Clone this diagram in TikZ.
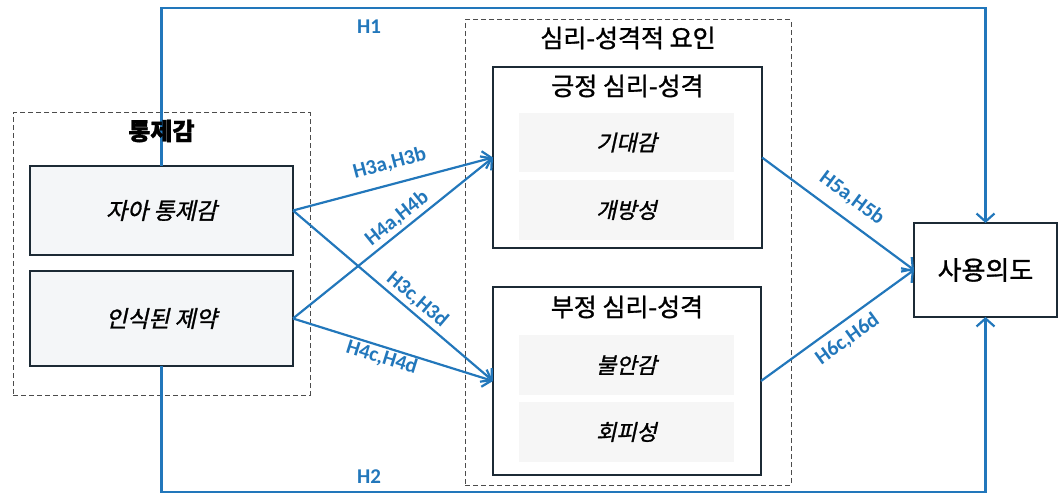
\documentclass[tikz,border=0pt]{standalone}
\usepackage{fontspec}
\setmainfont{Noto Sans CJK KR}
\newfontfamily\kr[FakeBold=1.2]{Noto Sans CJK KR}
\newfontfamily\krit[FakeSlant=0.22,FakeBold=1.2]{Noto Sans CJK KR}
\newfontfamily\labfont{Carlito}
\usetikzlibrary{arrows.meta}
\definecolor{myblue}{HTML}{2277BB}
\definecolor{dark}{HTML}{1C2A35}
\definecolor{boxfill}{HTML}{F4F6F8}
\definecolor{innerfill}{HTML}{F6F6F6}
\tikzset{
  x=1pt, y=1pt,
  grp/.style={draw=black!70, dash pattern=on 5pt off 3pt, line width=1pt, inner sep=0, outer sep=0},
  varbox/.style={draw=dark, line width=2.4pt, fill=boxfill, inner sep=0, outer sep=0, font=\krit\fontsize{23}{27}\selectfont},
  catbox/.style={draw=dark, line width=2.4pt, fill=white, inner sep=0, outer sep=0},
  innerbox/.style={fill=innerfill, inner sep=0, outer sep=0, font=\krit\fontsize{22}{26}\selectfont},
  title/.style={inner sep=0, font=\kr\fontsize{25}{29}\selectfont},
  btitle/.style={inner sep=0, font=\kr\bfseries\fontsize{24}{28}\selectfont},
  arr/.style={draw=myblue, line width=2.2pt, -{Straight Barb[length=8pt,width=18pt,line width=2.2pt]}},
  lab/.style={text=myblue, inner sep=0pt, font=\labfont\bfseries\fontsize{21}{24}\selectfont},
}
\begin{document}
\begin{tikzpicture}
\useasboundingbox (0,0) rectangle (1058,-497);
% groups
\node[grp, minimum width=297, minimum height=282] (g1) at (161.5,-254) {};
\node[grp, minimum width=326, minimum height=465] (g2) at (628,-252.5) {};
\node[title] (g2t) at (628,-38) {심리-성격적 요인};
% left variables
\node[varbox, minimum width=263, minimum height=89] (sc) at (161.5,-210.5) {자아 통제감};
\node[varbox, minimum width=263, minimum height=95] (pc) at (161.5,-318.5) {인식된 제약};
% positive
\node[catbox, minimum width=269, minimum height=181] (pos) at (627.5,-157.5) {};
\node[title] (post) at (627.5,-86) {긍정 심리-성격};
\node[innerbox, minimum width=215, minimum height=59] (ex) at (626.5,-142.5) {기대감};
\node[innerbox, minimum width=215, minimum height=60] (op) at (626.5,-210) {개방성};
% negative
\node[catbox, minimum width=268, minimum height=188] (neg) at (627,-381) {};
\node[title] (negt) at (627,-307) {부정 심리-성격};
\node[innerbox, minimum width=215, minimum height=60] (an) at (626.5,-365) {불안감};
\node[innerbox, minimum width=215, minimum height=60] (av) at (626.5,-432) {회피성};
% outcome
\node[draw=dark, line width=1.3pt, fill=white, minimum width=143, minimum height=94, inner sep=0, outer sep=0, font=\kr\fontsize{26}{30}\selectfont] (ui) at (985.5,-270) {사용의도};
% long paths
\coordinate (top) at (0,-8);
\coordinate (bot) at (0,-492);
\draw[arr] (sc.north) |- (top -| ui.north) -- (ui.north);
\draw[arr] (pc.south) |- (bot -| ui.south) -- (ui.south);
\node[lab] (h1) at (369,-27) {H1};
\node[lab] (h2) at (369,-477) {H2};
\node[btitle] (g1t) at (161.5,-131) {통제감};
% cross paths
\draw[arr] (sc.east) -- (pos.west) node[lab, sloped, pos=0.51, above=11pt] {H3a,H3b};
\draw[arr] (pc.east) -- (neg.west) node[lab, sloped, pos=0.46, below=1pt] {H4c,H4d};
\draw[arr] (sc.east) -- (neg.west) node[lab, sloped, pos=0.58, above=3pt] {H3c,H3d};
\draw[arr] (pc.east) -- (pos.west) node[lab, sloped, pos=0.56, above=3pt] {H4a,H4b};
\draw[arr] (pos.east) -- (ui.west) node[lab, sloped, pos=0.51, above=11pt] {H5a,H5b};
\draw[arr] (neg.east) -- (ui.west) node[lab, sloped, pos=0.50, below=7pt] {H6c,H6d};
\end{tikzpicture}
\end{document}
